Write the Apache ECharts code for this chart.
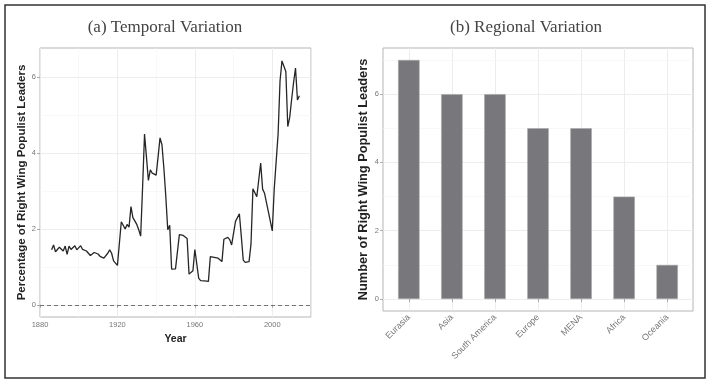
<!DOCTYPE html>
<html>
<head>
<meta charset="utf-8">
<script src="https://cdn.jsdelivr.net/npm/echarts@6/dist/echarts.min.js"></script>
<style>
html,body{margin:0;padding:0;background:#fff;}
#chart{width:713px;height:391px;}
</style>
</head>
<body>
<div id="chart"></div>
<script>
// ---- Panel (a): temporal variation ----
const years = [
 1886,1887,1888,1889,1890,1891,1892,1893,1894,1895,1896,1897,1898,1899,
 1900,1901,1902,1903,1904,1905,1906,1907,1908,1909,1910,1911,1912,1913,1914,1915,1916,1917,1918,1919,
 1920,1921,1922,1923,1924,1925,1926,1927,1928,1929,1930,1931,1932,1933,1934,1935,1936,1937,1938,1939,
 1940,1941,1942,1943,1944,1945,1946,1947,1948,1949,1950,1951,1952,1953,1954,1955,1956,1957,1958,1959,
 1960,1961,1962,1963,1964,1965,1966,1967,1968,1969,1970,1971,1972,1973,1974,1975,1976,1977,1978,1979,
 1980,1981,1982,1983,1984,1985,1986,1987,1988,1989,1990,1991,1992,1993,1994,1995,1996,1997,1998,1999,
 2000,2001,2002,2003,2004,2005,2006,2007,2008,2009,2010,2011,2012,2013,2014
];
const percentRW = [
 1.45,1.58,1.40,1.46,1.52,1.53,1.42,1.55,1.33,1.55,1.46,1.50,1.56,1.45,
 1.50,1.56,1.46,1.43,1.42,1.40,1.30,1.33,1.38,1.37,1.34,1.28,1.23,1.23,1.26,1.36,1.45,1.36,1.16,1.12,
 1.04,1.08,2.19,2.22,2.00,2.12,2.05,2.59,2.30,2.26,2.12,1.98,1.81,3.10,4.50,4.46,3.28,3.56,3.47,3.43,
 3.42,3.90,4.40,4.22,3.60,2.85,1.98,2.10,0.94,0.93,0.95,0.95,1.85,1.85,1.83,1.85,1.75,0.81,0.82,0.90,
 1.46,1.45,0.70,0.64,0.64,0.63,0.61,0.62,1.27,1.25,1.25,1.24,1.23,1.24,1.14,1.73,1.76,1.78,1.72,1.58,
 1.63,2.20,2.17,2.40,1.80,1.18,1.12,1.16,1.14,1.60,3.06,3.02,2.85,2.88,3.74,3.05,2.94,2.90,2.45,2.42,
 1.95,3.05,3.05,4.50,5.90,6.43,6.29,6.15,4.70,4.94,5.42,5.86,6.24,5.40,5.51
];
const xTicksA = [1880, 1920, 1960, 2000];
const xMinorA = [1900, 1940, 1980, 2020];
const yTicksA = [0, 2, 4, 6];
const yMinorA = [1, 3, 5];

// ---- Panel (b): regional variation ----
const regions = ['Eurasia', 'Asia', 'South America', 'Europe', 'MENA', 'Africa', 'Oceania'];
const leaderCounts = [7, 6, 6, 5, 5, 3, 1];
const yTicksB = [0, 2, 4, 6];
const yMinorB = [1, 3, 5, 7];

const regionPos = regions.map((r, i) => i + 1);
const lineData = years.map((y, i) => [y, percentRW[i]]);
const barData = regions.map((r, i) => [regionPos[i], leaderCounts[i]]);

const tickColor = '#777777';
const majorGrid = '#ebebeb';
const minorGrid = '#f4f4f4';

function minorLines(xs, ys) {
  const d = [];
  xs.forEach(v => d.push({ xAxis: v }));
  ys.forEach(v => d.push({ yAxis: v }));
  return d;
}

const chart = echarts.init(document.getElementById('chart'), null, { renderer: 'canvas' });
chart.setOption({
  animation: false,
  backgroundColor: '#fff',
  graphic: [
    { type: 'rect', shape: { x: 5, y: 5, width: 700, height: 373 }, style: { fill: 'none', stroke: '#333', lineWidth: 1.5 }, z: 100 },
    { type: 'text', style: { x: 165, y: 28, text: '(a) Temporal Variation', textAlign: 'center', textVerticalAlign: 'middle',
        font: '17px "Liberation Serif", serif', fill: '#444' } },
    { type: 'text', style: { x: 526, y: 28, text: '(b) Regional Variation', textAlign: 'center', textVerticalAlign: 'middle',
        font: '17px "Liberation Serif", serif', fill: '#444' } }
  ],
  grid: [
    { left: 40, top: 48, width: 271, height: 269, show: true, borderColor: '#b5b5b5', borderWidth: 1, backgroundColor: 'transparent' },
    { left: 383, top: 48, width: 310, height: 263, show: true, borderColor: '#b5b5b5', borderWidth: 1, backgroundColor: 'transparent' }
  ],
  xAxis: [
    {
      gridIndex: 0, type: 'value', min: 1880, max: 2020,
      axisLine: { show: false },
      axisTick: { show: true, customValues: xTicksA, length: 3, lineStyle: { color: '#999', width: 0.8 } },
      axisLabel: { customValues: xTicksA, fontSize: 7.5, color: tickColor, margin: 4, fontFamily: 'Liberation Sans',
        formatter: v => String(v) },
      splitLine: { show: true, lineStyle: { color: majorGrid, width: 0.9 } },
      name: 'Year', nameLocation: 'middle', nameGap: 13,
      nameTextStyle: { fontSize: 10.5, fontWeight: 'bold', color: '#222', fontFamily: 'Liberation Sans' }
    },
    {
      gridIndex: 1, type: 'value', min: 0.4, max: 7.6,
      axisLine: { show: false },
      axisTick: { show: true, customValues: regionPos, length: 3, lineStyle: { color: '#999', width: 0.8 } },
      axisLabel: { customValues: regionPos, fontSize: 9, color: tickColor, margin: 5, rotate: 45,
        fontFamily: 'Liberation Sans', formatter: v => regions[Math.round(v) - 1] },
      splitLine: { show: true, lineStyle: { color: majorGrid, width: 0.9 } }
    }
  ],
  yAxis: [
    {
      gridIndex: 0, type: 'value', min: -0.32, max: 6.77,
      axisLine: { show: false },
      axisTick: { show: true, customValues: yTicksA, length: 3, lineStyle: { color: '#999', width: 0.8 } },
      axisLabel: { customValues: yTicksA, fontSize: 7.5, color: tickColor, margin: 4, fontFamily: 'Liberation Sans' },
      splitLine: { show: true, lineStyle: { color: majorGrid, width: 0.9 } },
      name: 'Percentage of Right Wing Populist Leaders', nameLocation: 'middle', nameGap: 12,
      nameTextStyle: { fontSize: 11.5, fontWeight: 'bold', color: '#222', fontFamily: 'Liberation Sans' }
    },
    {
      gridIndex: 1, type: 'value', min: -0.35, max: 7.35,
      axisLine: { show: false },
      axisTick: { show: true, customValues: yTicksB, length: 3, lineStyle: { color: '#999', width: 0.8 } },
      axisLabel: { customValues: yTicksB, fontSize: 7.5, color: tickColor, margin: 4, fontFamily: 'Liberation Sans' },
      splitLine: { show: true, lineStyle: { color: majorGrid, width: 0.9 } },
      name: 'Number of Right Wing Populist Leaders', nameLocation: 'middle', nameGap: 13,
      nameTextStyle: { fontSize: 12.8, fontWeight: 'bold', color: '#222', fontFamily: 'Liberation Sans' }
    }
  ],
  series: [
    {
      type: 'line', xAxisIndex: 0, yAxisIndex: 0, data: [], z: 1, silent: true,
      markLine: { silent: true, symbol: 'none', label: { show: false },
        lineStyle: { color: minorGrid, width: 0.6, type: 'solid' }, data: minorLines(xMinorA, yMinorA) }
    },
    {
      type: 'line', xAxisIndex: 1, yAxisIndex: 1, data: [], z: 1, silent: true,
      markLine: { silent: true, symbol: 'none', label: { show: false },
        lineStyle: { color: minorGrid, width: 0.6, type: 'solid' }, data: minorLines([], yMinorB) }
    },
    {
      type: 'line', xAxisIndex: 0, yAxisIndex: 0, data: lineData, showSymbol: false, symbol: 'none',
      lineStyle: { color: '#262626', width: 1.3 }, z: 5,
      markLine: { silent: true, symbol: 'none', label: { show: false },
        lineStyle: { color: '#666', width: 0.9, type: [4, 3] }, data: [{ yAxis: 0 }] }
    },
    {
      type: 'bar', xAxisIndex: 1, yAxisIndex: 1, data: barData, barWidth: 21.5,
      itemStyle: { color: '#78787c', borderColor: '#a8a8a8', borderWidth: 0.6 }, z: 5
    }
  ]
});
</script>
</body>
</html>
